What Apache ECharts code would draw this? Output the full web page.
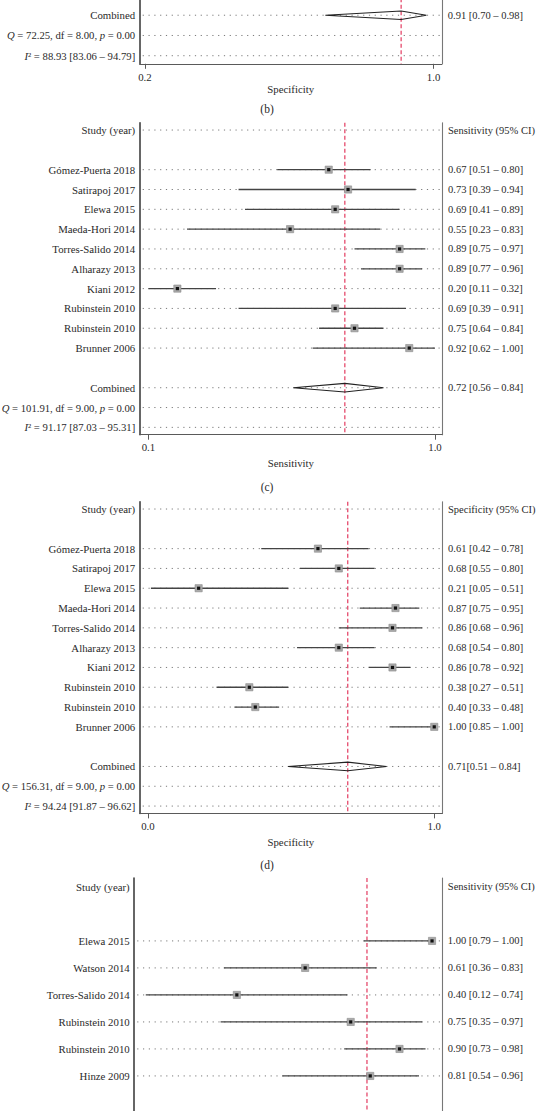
<!DOCTYPE html>
<html><head><meta charset="utf-8">
<script src="https://cdn.jsdelivr.net/npm/echarts@6/dist/echarts.min.js"></script>
<style>html,body{margin:0;padding:0;background:#fff}#c{width:537px;height:1111px}</style>
</head><body><div id="c"></div>
<script>
// ---------- DATA ----------
// (b) Specificity — only the pooled rows are inside the picture
const bPooled = [0.91, 0.70, 0.98];
const bHet = ['72.25', '8.00', '0.00'];
const bI2 = ['88.93', '83.06', '94.79'];
const bTicks = [0.2, 1.0];

// (c) Sensitivity
const cStudies = ['Gómez-Puerta 2018','Satirapoj 2017','Elewa 2015','Maeda-Hori 2014','Torres-Salido 2014','Alharazy 2013','Kiani 2012','Rubinstein 2010','Rubinstein 2010','Brunner 2006'];
const cEst = [0.67,0.73,0.69,0.55,0.89,0.89,0.20,0.69,0.75,0.92];
const cLo  = [0.51,0.39,0.41,0.23,0.75,0.77,0.11,0.39,0.64,0.62];
const cHi  = [0.80,0.94,0.89,0.83,0.97,0.96,0.32,0.91,0.84,1.00];
const cPooled = [0.72, 0.56, 0.84];
const cHet = ['101.91', '9.00', '0.00'];
const cI2 = ['91.17', '87.03', '95.31'];
const cTicks = [0.11, 1.0];

// (d) Specificity
const dStudies = ['Gómez-Puerta 2018','Satirapoj 2017','Elewa 2015','Maeda-Hori 2014','Torres-Salido 2014','Alharazy 2013','Kiani 2012','Rubinstein 2010','Rubinstein 2010','Brunner 2006'];
const dEst = [0.61,0.68,0.21,0.87,0.86,0.68,0.86,0.38,0.40,1.00];
const dLo  = [0.42,0.55,0.05,0.75,0.68,0.54,0.78,0.27,0.33,0.85];
const dHi  = [0.78,0.80,0.51,0.95,0.96,0.80,0.92,0.51,0.48,1.00];
const dPooled = [0.71, 0.51, 0.84];
const dHet = ['156.31', '9.00', '0.00'];
const dI2 = ['94.24', '91.87', '96.62'];
const dTicks = [0.04, 1.0];

// (e) Sensitivity — top part only
const eStudies = ['Elewa 2015','Watson 2014','Torres-Salido 2014','Rubinstein 2010','Rubinstein 2010','Hinze 2009'];
const eEst = [1.00,0.61,0.40,0.75,0.90,0.81];
const eLo  = [0.79,0.36,0.12,0.35,0.73,0.54];
const eHi  = [1.00,0.83,0.74,0.97,0.98,0.96];
const ePooledEst = 0.80;

// ---------- STYLE ----------
const FONT = "'Liberation Serif','Times New Roman',serif";
const FS = 10.8;      // left labels / axis
const FSR = 10.5;     // right column labels
const TXT = '#2a2a2a';
const RED = '#e33b60';
const rich = {
  it: {fontStyle: 'italic', fontFamily: FONT, fontSize: 10.7, fill: TXT, color: TXT},
  n: {fontFamily: FONT, fontSize: 10.7, fill: TXT, color: TXT}
};

const f2 = v => v.toFixed(2);
const ci = (e, l, h, sep) => `${f2(e)}${sep}[${f2(l)} – ${f2(h)}]`;

function studyRows(names, est, lo, hi, startRow) {
  return names.map((n, i) => ({row: startRow + i, left: n, right: ci(est[i], lo[i], hi[i], ' '),
    kind: 'study', est: est[i], lo: lo[i], hi: hi[i], dotted: true}));
}
function pooledRows(p, het, i2, startRow, sep) {
  return [
    {row: startRow, left: 'Combined', right: ci(p[0], p[1], p[2], sep), kind: 'combined', est: p[0], lo: p[1], hi: p[2], dotted: true},
    {row: startRow + 1, left: `{it|Q}{n| = ${het[0]}, df = ${het[1]}, }{it|p}{n| = ${het[2]}}`, right: '', kind: 'text', dotted: true},
    {row: startRow + 2, left: `{it|I}{n|² = ${i2[0]} [${i2[1]} – ${i2[2]}]}`, right: '', kind: 'text', dotted: true}
  ];
}

const panels = [
  { // (b)
    grid: {left: 139.7, width: 302.1, top: -235.7, height: 299.5},
    ymin: -0.4, ymax: 14.4, xmin: 0.1856, xmax: 1.0227, ticks: bTicks, name: 'Specificity', showX: true, nameGap: 20, margin: 8,
    pooled: bPooled[0],
    rows: pooledRows(bPooled, bHet, bI2, 12, ' ')
  },
  { // (c)
    grid: {left: 139.7, width: 302.3, top: 122.7, height: 312},
    ymin: -0.37, ymax: 15.37, xmin: 0.083, xmax: 1.0217, ticks: cTicks, name: 'Sensitivity', showX: true, nameGap: 23, margin: 7,
    pooled: cPooled[0],
    rows: [{row: 0, left: 'Study (year)', right: 'Sensitivity (95% CI)', kind: 'header', dotted: true}]
      .concat(studyRows(cStudies, cEst, cLo, cHi, 2), pooledRows(cPooled, cHet, cI2, 13, ' '))
  },
  { // (d)
    grid: {left: 139.7, width: 302.3, top: 501.7, height: 311.7},
    ymin: -0.37, ymax: 15.37, xmin: 0.0124, xmax: 1.026, ticks: dTicks, name: 'Specificity', showX: true, nameGap: 23, margin: 7,
    pooled: dPooled[0],
    rows: [{row: 0, left: 'Study (year)', right: 'Specificity (95% CI)', kind: 'header', dotted: true}]
      .concat(studyRows(dStudies, dEst, dLo, dHi, 2), pooledRows(dPooled, dHet, dI2, 13, ''))
  },
  { // (e)
    grid: {left: 134.2, width: 307.6, top: 878, height: 315.4},
    ymin: -0.33, ymax: 11.35, xmin: 0.0845, xmax: 1.03, ticks: [], name: '', showX: false, nameGap: 23, margin: 7,
    pooled: ePooledEst,
    rows: [{row: 0, left: 'Study (year)', right: 'Sensitivity (95% CI)', kind: 'header', dotted: false}]
      .concat(studyRows(eStudies, eEst, eLo, eHi, 2))
  }
];

const grids = [], xAxes = [], yAxes = [], series = [];
panels.forEach((p, gi) => {
  grids.push(Object.assign({containLabel: false, outerBoundsMode: 'none'}, p.grid));
  xAxes.push({
    type: 'value', gridIndex: gi, min: p.xmin, max: p.xmax, show: p.showX,
    axisLine: {show: true, onZero: false, lineStyle: {color: '#5a5a5a', width: 1.2}},
    axisTick: {show: true, customValues: p.ticks, length: 5, lineStyle: {color: '#5a5a5a', width: 1}},
    axisLabel: {customValues: p.ticks, formatter: v => v.toFixed(1), margin: p.margin, color: TXT, fontFamily: FONT, fontSize: FS},
    splitLine: {show: false},
    name: p.name, nameLocation: 'middle', nameGap: p.nameGap,
    nameTextStyle: {color: TXT, fontFamily: FONT, fontSize: FS}
  });
  const yBase = {type: 'value', gridIndex: gi, inverse: true, min: p.ymin, max: p.ymax,
    axisTick: {show: false}, axisLabel: {show: false}, splitLine: {show: false}};
  yAxes.push(Object.assign({}, yBase, {position: 'left', axisLine: {show: true, onZero: false, lineStyle: {color: '#333', width: 1.5}}}));
  yAxes.push(Object.assign({}, yBase, {position: 'right', axisLine: {show: true, onZero: false, lineStyle: {color: '#777', width: 1.1}}}));
  const xi = gi, yi = gi * 2;
  const rows = p.rows;
  // background: dotted row lines + row texts
  series.push({
    type: 'custom', xAxisIndex: xi, yAxisIndex: yi, clip: false, z: 2, silent: true,
    data: rows.map(r => [p.xmin, r.row]),
    encode: {x: 0, y: 1},
    renderItem: (params, api) => {
      const r = rows[params.dataIndex];
      const cs = params.coordSys;
      const y = api.coord([p.xmin, r.row])[1];
      const ch = [];
      if (r.dotted) ch.push({type: 'line', shape: {x1: cs.x + 3, y1: y, x2: cs.x + cs.width - 1, y2: y},
        style: {stroke: '#7a7a7a', lineWidth: 1, lineDash: [1.2, 4.6]}});
      ch.push({type: 'text', x: cs.x - 4.5, y: y,
        style: {text: r.left, align: 'right', verticalAlign: 'middle', fontFamily: FONT, fontSize: FS, fill: TXT, rich: rich}});
      if (r.right) ch.push({type: 'text', x: cs.x + cs.width + 6, y: y,
        style: {text: r.right, align: 'left', verticalAlign: 'middle', fontFamily: FONT, fontSize: FSR, fill: TXT}});
      return {type: 'group', children: ch};
    }
  });
  // pooled reference line
  series.push({
    type: 'custom', xAxisIndex: xi, yAxisIndex: yi, clip: false, z: 3, silent: true,
    data: [[p.pooled, p.ymin]], encode: {x: 0, y: 1},
    renderItem: (params, api) => {
      const cs = params.coordSys;
      const x = api.coord([p.pooled, p.ymin])[0];
      return {type: 'line', shape: {x1: x, y1: cs.y, x2: x, y2: cs.y + cs.height},
        style: {stroke: RED, lineWidth: 1.2, lineDash: [4, 2.5]}};
    }
  });
  // marks: CI lines, squares, diamonds
  const mrows = rows.filter(r => r.kind === 'study' || r.kind === 'combined');
  series.push({
    type: 'custom', xAxisIndex: xi, yAxisIndex: yi, clip: false, z: 4, silent: true,
    data: mrows.map(r => [r.est, r.row, r.lo, r.hi]), encode: {x: 0, y: 1},
    renderItem: (params, api) => {
      const r = mrows[params.dataIndex];
      const c = api.coord([r.est, r.row]);
      const l = api.coord([r.lo, r.row]);
      const h = api.coord([r.hi, r.row]);
      if (r.kind === 'combined') {
        const d = 4.3;
        return {type: 'polygon', shape: {points: [[l[0], c[1]], [c[0], c[1] - d], [h[0], c[1]], [c[0], c[1] + d]]},
          style: {fill: 'none', stroke: '#222', lineWidth: 1.1}};
      }
      return {type: 'group', children: [
        {type: 'line', shape: {x1: l[0], y1: c[1], x2: h[0], y2: c[1]}, style: {stroke: '#444', lineWidth: 1.3}},
        {type: 'rect', shape: {x: c[0] - 3.6, y: c[1] - 3.6, width: 7.2, height: 7.2}, style: {fill: '#a9a9a9', stroke: '#8c8c8c', lineWidth: 0.6}},
        {type: 'rect', shape: {x: c[0] - 1.6, y: c[1] - 1.6, width: 3.2, height: 3.2}, style: {fill: '#111'}}
      ]};
    }
  });
});

const capStyle = t => ({text: t, align: 'center', verticalAlign: 'middle', fontFamily: FONT, fontSize: 11.5, fill: TXT});
const chart = echarts.init(document.getElementById('c'), null, {renderer: 'svg', width: 537, height: 1111});
chart.setOption({
  animation: false,
  backgroundColor: '#fff',
  grid: grids, xAxis: xAxes, yAxis: yAxes, series: series,
  graphic: [
    {type: 'text', x: 267, y: 108.5, style: capStyle('(b)')},
    {type: 'text', x: 267, y: 487, style: capStyle('(c)')},
    {type: 'text', x: 267, y: 865, style: capStyle('(d)')}
  ]
});
</script></body></html>
